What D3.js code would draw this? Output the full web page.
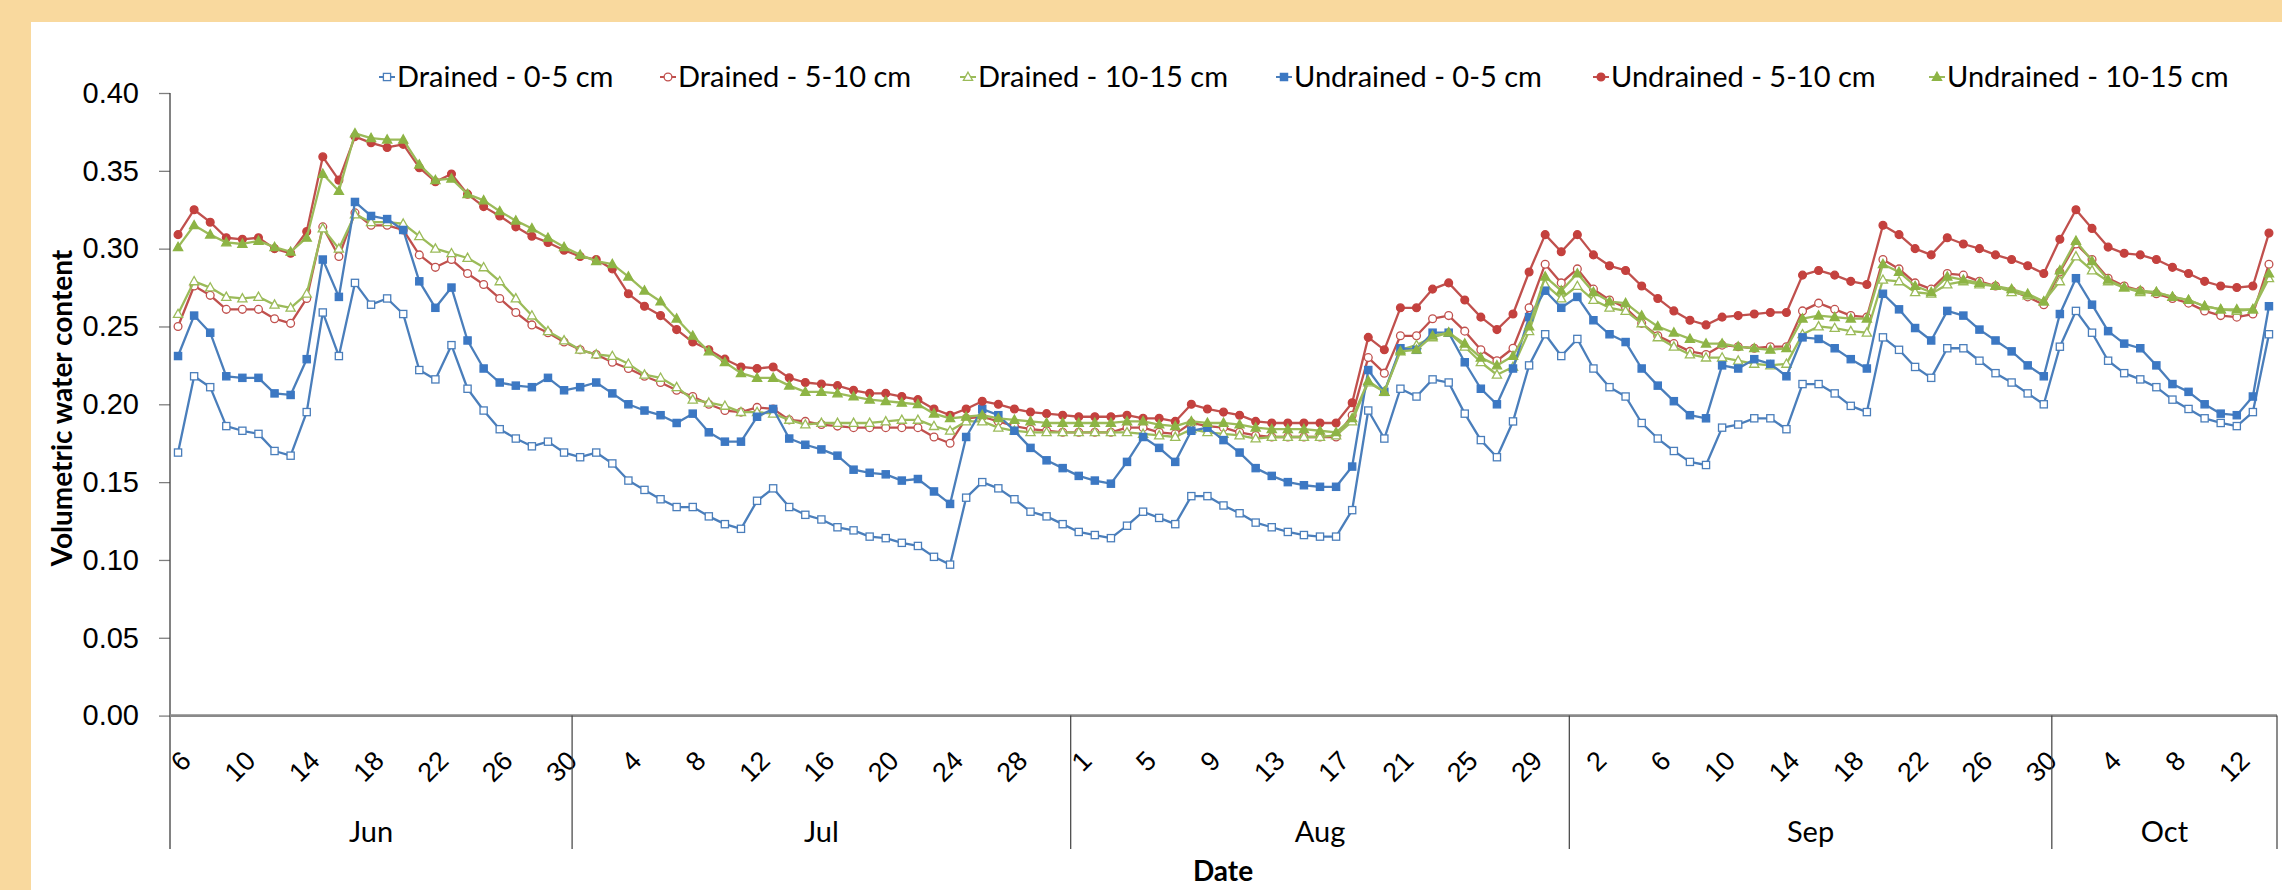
<!DOCTYPE html>
<html>
<head>
<meta charset="utf-8">
<script src="https://cdn.jsdelivr.net/npm/d3@7"></script>
<style>
  html, body { margin: 0; padding: 0; background: #F9D99E; }
  svg { display: block; font-family: Lato, "Liberation Sans", sans-serif; }
</style>
</head>
<body>
<div id="chart"></div>
<script>
// daily readings, Jun 6 - Oct 14
const startDay = new Date(2000, 5, 6);
const endDay = new Date(2000, 9, 15);

const drained05 = [
  .169,.218,.211,.186,.183,.181,.170,.167,.195,.259,.231,.278,.264,.268,.258,.222,
  .216,.238,.210,.196,.184,.178,.173,.176,.169,.166,.169,.162,.151,.145,.139,.134,.134,
  .128,.123,.120,.138,.146,.134,.129,.126,.121,.119,.115,.114,.111,.109,.102,.097,
  .140,.150,.146,.139,.131,.128,.123,.118,.116,.114,.122,.131,.127,.123,.141,.141,.135,
  .130,.124,.121,.118,.116,.115,.115,.132,.196,.178,.210,.205,.216,.214,.194,.177,
  .166,.189,.225,.245,.231,.242,.223,.211,.205,.188,.178,.170,.163,.161,.185,.187,.191,
  .191,.184,.213,.213,.207,.199,.195,.243,.235,.224,.217,.236,.236,.228,.220,.214,
  .207,.200,.237,.260,.246,.228,.220,.216,.211,.203,.197,.191,.188,.186,.195,.245
];
const drained510 = [
  .250,.276,.270,.261,.261,.261,.255,.252,.268,.314,.295,.323,.315,.315,.312,.296,
  .288,.293,.284,.277,.268,.259,.251,.246,.240,.235,.232,.227,.223,.218,.214,.209,.205,
  .200,.196,.195,.198,.197,.190,.189,.187,.186,.185,.185,.185,.185,.185,.179,.175,
  .191,.192,.189,.186,.184,.183,.182,.182,.182,.182,.185,.185,.182,.181,.188,.186,.185,
  .182,.180,.179,.179,.179,.179,.179,.193,.230,.220,.244,.244,.255,.257,.247,.235,
  .228,.236,.262,.290,.278,.287,.274,.267,.262,.252,.244,.239,.234,.232,.238,.237,.236,
  .237,.237,.260,.265,.261,.257,.256,.293,.287,.278,.274,.284,.283,.279,.276,.273,
  .269,.264,.285,.303,.293,.281,.276,.273,.271,.268,.265,.260,.257,.256,.258,.290
];
const drained1015 = [
  .258,.279,.275,.269,.268,.269,.264,.262,.271,.313,.300,.322,.317,.317,.316,.308,
  .300,.297,.294,.288,.279,.268,.257,.247,.241,.235,.232,.231,.226,.219,.217,.211,.203,
  .201,.199,.195,.195,.194,.190,.187,.188,.188,.188,.188,.189,.190,.190,.186,.183,
  .189,.189,.185,.183,.182,.182,.182,.182,.182,.182,.182,.181,.180,.179,.184,.182,.181,
  .180,.178,.179,.179,.179,.179,.180,.189,.214,.208,.235,.238,.243,.246,.237,.227,
  .219,.224,.247,.277,.268,.276,.267,.262,.260,.252,.243,.237,.232,.230,.230,.228,.226,
  .225,.226,.245,.250,.249,.247,.246,.280,.279,.272,.271,.277,.279,.277,.276,.272,
  .270,.266,.279,.295,.286,.279,.275,.272,.272,.269,.267,.263,.261,.260,.261,.281
];
const undrained05 = [
  .231,.257,.246,.218,.217,.217,.207,.206,.229,.293,.269,.330,.321,.319,.312,.279,
  .262,.275,.241,.223,.214,.212,.211,.217,.209,.211,.214,.207,.200,.196,.193,.188,.194,
  .182,.176,.176,.192,.197,.178,.174,.171,.167,.158,.156,.155,.151,.152,.144,.136,
  .179,.197,.193,.183,.172,.164,.159,.154,.151,.149,.163,.179,.172,.163,.183,.185,.177,
  .169,.159,.154,.150,.148,.147,.147,.160,.222,.208,.236,.235,.246,.246,.227,.210,
  .200,.223,.256,.273,.262,.269,.254,.245,.240,.223,.212,.202,.193,.191,.225,.223,.229,
  .226,.218,.243,.242,.236,.229,.223,.271,.261,.249,.241,.260,.257,.248,.241,.234,
  .225,.218,.258,.281,.264,.247,.239,.236,.225,.213,.208,.200,.194,.193,.205,.263
];
const undrained510 = [
  .309,.325,.317,.307,.306,.307,.300,.297,.311,.359,.344,.372,.368,.365,.367,.352,
  .343,.348,.335,.327,.321,.314,.308,.304,.299,.295,.293,.287,.271,.263,.257,.248,.240,
  .235,.229,.224,.223,.224,.217,.214,.213,.212,.209,.207,.207,.205,.203,.197,.193,
  .197,.202,.200,.197,.195,.194,.193,.192,.192,.192,.193,.191,.191,.189,.200,.197,.195,
  .193,.189,.188,.188,.188,.188,.188,.201,.243,.235,.262,.262,.274,.278,.267,.256,
  .248,.258,.285,.309,.298,.309,.296,.289,.286,.276,.268,.260,.254,.251,.256,.257,.258,
  .259,.259,.283,.286,.283,.279,.277,.315,.309,.300,.296,.307,.303,.300,.296,.293,
  .289,.284,.306,.325,.313,.301,.297,.296,.293,.288,.284,.279,.276,.275,.276,.310
];
const undrained1015 = [
  .301,.315,.309,.304,.303,.305,.301,.298,.307,.348,.337,.374,.371,.370,.370,.354,
  .344,.345,.335,.331,.324,.318,.313,.307,.301,.296,.292,.290,.282,.273,.266,.255,.244,
  .234,.227,.220,.217,.217,.212,.208,.208,.207,.205,.203,.202,.201,.200,.194,.191,
  .192,.193,.191,.190,.189,.188,.188,.188,.188,.188,.189,.189,.187,.186,.189,.188,.188,
  .187,.185,.184,.184,.184,.183,.182,.191,.215,.208,.234,.235,.244,.246,.239,.230,
  .225,.231,.250,.282,.273,.284,.272,.266,.265,.257,.250,.246,.242,.239,.239,.237,.236,
  .235,.236,.255,.257,.256,.255,.255,.290,.285,.276,.272,.282,.280,.278,.276,.274,
  .271,.266,.286,.305,.292,.280,.275,.273,.272,.269,.267,.263,.261,.261,.261,.284
];

const seriesNames = ['Drained - 0-5 cm', 'Drained - 5-10 cm', 'Drained - 10-15 cm',
  'Undrained - 0-5 cm', 'Undrained - 5-10 cm', 'Undrained - 10-15 cm'];
const seriesValues = [drained05, drained510, drained1015, undrained05, undrained510, undrained1015];
const yTicks = [0, 0.05, 0.10, 0.15, 0.20, 0.25, 0.30, 0.35, 0.40];
const monthNames = ['Jan', 'Feb', 'Mar', 'Apr', 'May', 'Jun', 'Jul', 'Aug', 'Sep', 'Oct', 'Nov', 'Dec'];

const STYLE = [
  {line: '#4A7EBB', mark: '#4A7EBB', shape: 'square', filled: false},
  {line: '#C0504D', mark: '#C0504D', shape: 'circle', filled: false},
  {line: '#9BBB59', mark: '#9BBB59', shape: 'triangle', filled: false},
  {line: '#4A7EBB', mark: '#3C78C3', shape: 'square', filled: true},
  {line: '#C0504D', mark: '#C4413E', shape: 'circle', filled: true},
  {line: '#9BBB59', mark: '#8DB445', shape: 'triangle', filled: true}
];

const W = 2282, H = 890;
const plot = {left: 170, right: 2277, top: 93, bottom: 715.6};
const groupBottom = 849;

const days = d3.timeDay.range(startDay, endDay);

const svg = d3.select('#chart').append('svg')
  .attr('width', W)
  .attr('height', H);

svg.append('rect')
  .attr('x', 31).attr('y', 22)
  .attr('width', W - 31).attr('height', H - 22)
  .attr('fill', '#fff');

const x = d3.scaleBand()
  .domain(days)
  .range([plot.left, plot.right])
  .padding(0);
const cx = (d) => x(d) + x.bandwidth() / 2;

const y = d3.scaleLinear()
  .domain([0, 0.4])
  .range([plot.bottom, plot.top]);

// y axis
const yAxis = svg.append('g')
  .attr('transform', `translate(${plot.left},0)`)
  .call(d3.axisLeft(y).tickValues(yTicks).tickFormat(d3.format('.2f')).tickSize(11).tickPadding(20));
yAxis.select('.domain').remove();
yAxis.selectAll('.tick line').attr('stroke', '#7f7f7f').attr('stroke-width', 1.3);
yAxis.selectAll('.tick text')
  .attr('font-size', 29)
  .attr('fill', '#000');

svg.append('line')
  .attr('x1', plot.left).attr('x2', plot.left)
  .attr('y1', plot.top).attr('y2', groupBottom)
  .attr('stroke', '#3f3f3f')
  .attr('stroke-width', 1.3);

// x axis: day labels every 4th day
const tickDays = days.filter((d, i) => i % 4 === 0);
const xAxis = svg.append('g')
  .attr('transform', `translate(0,${plot.bottom})`)
  .call(d3.axisBottom(x).tickValues(tickDays).tickSize(0).tickFormat(d3.timeFormat('%-d')));
xAxis.select('.domain').remove();
xAxis.selectAll('.tick text')
  .attr('font-size', 27)
  .attr('fill', '#000')
  .attr('text-anchor', 'end')
  .attr('dy', '0.35em')
  .attr('transform', 'translate(8,40) rotate(-45)')
  .attr('y', 0);

svg.append('line')
  .attr('x1', plot.left).attr('x2', plot.right)
  .attr('y1', plot.bottom).attr('y2', plot.bottom)
  .attr('stroke', '#8a8a8a')
  .attr('stroke-width', 2.6);

// month groups
const months = d3.groups(days, (d) => d.getMonth());
months.forEach(([m, ds]) => {
  const x0 = x(ds[0]);
  const x1 = x(ds[ds.length - 1]) + x.bandwidth();
  svg.append('line')
    .attr('x1', x1).attr('x2', x1)
    .attr('y1', plot.bottom).attr('y2', groupBottom)
    .attr('stroke', '#3f3f3f')
    .attr('stroke-width', 1.2);
  svg.append('text')
    .attr('x', (x0 + x1) / 2)
    .attr('y', 842)
    .attr('text-anchor', 'middle')
    .attr('font-size', 29)
    .text(monthNames[m]);
});

// axis titles
svg.append('text')
  .attr('x', 1223).attr('y', 881)
  .attr('text-anchor', 'middle')
  .attr('font-size', 28)
  .attr('font-weight', 'bold')
  .text('Date');

svg.append('text')
  .attr('transform', `translate(72,408) rotate(-90)`)
  .attr('text-anchor', 'middle')
  .attr('font-size', 28)
  .attr('font-weight', 'bold')
  .text('Volumetric water content');

function drawMarker(g, s, px, py) {
  const fill = s.filled ? s.mark : '#fff';
  let el;
  if (s.shape === 'square') {
    el = g.append('rect').attr('x', px - 3.6).attr('y', py - 3.6).attr('width', 7.2).attr('height', 7.2);
  } else if (s.shape === 'circle') {
    el = g.append('circle').attr('cx', px).attr('cy', py).attr('r', 3.9);
  } else {
    el = g.append('path').attr('d', `M${px},${py - 4.8}L${px + 4.6},${py + 3.4}L${px - 4.6},${py + 3.4}Z`);
  }
  el.attr('fill', fill).attr('stroke', s.mark).attr('stroke-width', 1.3);
}

// series
const line = d3.line()
  .x((d, i) => cx(days[i]))
  .y((d) => y(d));

seriesValues.forEach((vals, k) => {
  const s = STYLE[k];
  const g = svg.append('g');
  g.append('path')
    .attr('d', line(vals))
    .attr('fill', 'none')
    .attr('stroke', s.line)
    .attr('stroke-width', 2.3)
    .attr('stroke-linejoin', 'round');
  vals.forEach((v, i) => drawMarker(g, s, cx(days[i]), y(v)));
});

// legend
const legendX = [387, 668, 968, 1284, 1601, 1937];
const legendY = 77;
seriesNames.forEach((name, k) => {
  const s = STYLE[k];
  const g = svg.append('g');
  g.append('line')
    .attr('x1', legendX[k] - 8).attr('x2', legendX[k] + 8)
    .attr('y1', legendY).attr('y2', legendY)
    .attr('stroke', s.line)
    .attr('stroke-width', 2);
  drawMarker(g, s, legendX[k], legendY);
  g.append('text')
    .attr('x', legendX[k] + 10)
    .attr('y', legendY)
    .attr('dy', '0.35em')
    .attr('font-size', 29)
    .text(name);
});
</script>
</body>
</html>
